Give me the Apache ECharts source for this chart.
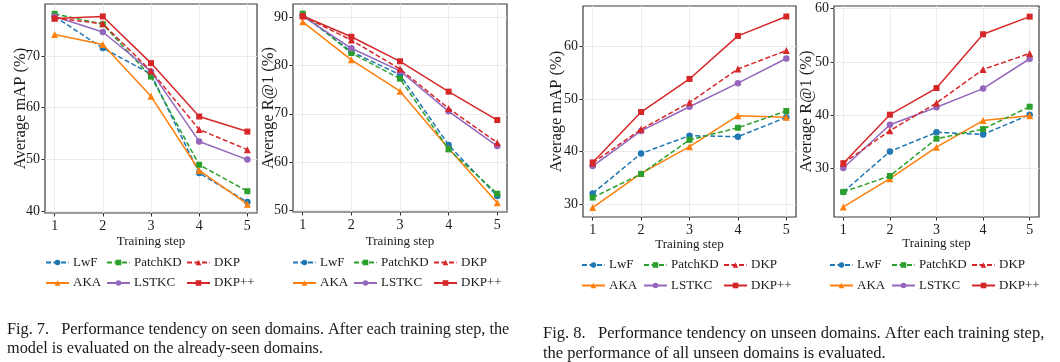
<!DOCTYPE html>
<html><head><meta charset="utf-8">
<script src="https://cdn.jsdelivr.net/npm/echarts@6/dist/echarts.min.js"></script>
<style>html,body{margin:0;padding:0;background:#fff}#c{width:1060px;height:362px}</style>
</head><body><div id="c"></div>
<script>
// ---- data ----
const steps = [1, 2, 3, 4, 5];
const methodNames = ['LwF', 'AKA', 'PatchKD', 'LSTKC', 'DKP', 'DKP++'];

// Fig. 7 (left): seen domains, Average mAP (%)
const seenMapLwF     = [77.6, 71.5, 66.5, 47.4, 41.8];
const seenMapAKA     = [74.1, 72.2, 62.2, 47.9, 41.4];
const seenMapPatchKD = [78.1, 76.1, 66.0, 49.0, 43.9];
const seenMapLSTKC   = [77.6, 74.6, 67.0, 53.5, 50.0];
const seenMapDKP     = [77.3, 76.2, 67.1, 55.8, 51.9];
const seenMapDKPpp   = [77.2, 77.6, 68.6, 58.3, 55.4];

// Fig. 7 (right): seen domains, Average R@1 (%)
const seenR1LwF     = [90.5, 82.9, 78.1, 63.5, 52.9];
const seenR1AKA     = [89.1, 81.2, 74.7, 62.8, 51.5];
const seenR1PatchKD = [90.8, 82.6, 77.3, 62.6, 53.4];
const seenR1LSTKC   = [90.3, 83.6, 78.9, 70.5, 63.3];
const seenR1DKP     = [90.3, 85.3, 79.3, 71.1, 64.0];
const seenR1DKPpp   = [90.3, 86.0, 80.9, 74.6, 68.7];

// Fig. 8 (left): unseen domains, Average mAP (%)
const unseenMapLwF     = [32.0, 39.6, 43.0, 42.8, 46.5];
const unseenMapAKA     = [29.3, 35.8, 40.9, 46.8, 46.5];
const unseenMapPatchKD = [31.2, 35.7, 42.2, 44.5, 47.7];
const unseenMapLSTKC   = [37.2, 43.9, 48.5, 53.0, 57.7];
const unseenMapDKP     = [37.8, 44.2, 49.3, 55.7, 59.2];
const unseenMapDKPpp   = [37.9, 47.5, 53.8, 62.0, 65.7];

// Fig. 8 (right): unseen domains, Average R@1 (%)
const unseenR1LwF     = [25.6, 33.2, 36.8, 36.4, 40.1];
const unseenR1AKA     = [22.8, 28.1, 34.0, 39.0, 39.9];
const unseenR1PatchKD = [25.6, 28.6, 35.6, 37.4, 41.6];
const unseenR1LSTKC   = [30.1, 38.2, 41.5, 45.0, 50.6];
const unseenR1DKP     = [31.0, 37.1, 42.3, 48.6, 51.6];
const unseenR1DKPpp   = [31.0, 40.1, 45.1, 55.2, 58.5];

// tick labels
const xTicks = [1, 2, 3, 4, 5];
const yTicksSeenMap = [40, 50, 60, 70];
const yTicksSeenR1 = [50, 60, 70, 80, 90];
const yTicksUnseenMap = [30, 40, 50, 60];
const yTicksUnseenR1 = [30, 40, 50, 60];

const xLabel = 'Training step';
const yLabelMap = 'Average mAP (%)';
const yLabelR1 = 'Average R@1 (%)';
const caption7a = 'Fig. 7.   Performance tendency on seen domains. After each training step, the';
const caption7b = 'model is evaluated on the already-seen domains.';
const caption8a = 'Fig. 8.   Performance tendency on unseen domains. After each training step,';
const caption8b = 'the performance of all unseen domains is evaluated.';

// ---- styles ----
const FONT = '"Liberation Serif", "DejaVu Serif", serif';
const styles = {
  'LwF':     {color: '#1f77b4', dash: true,  symbol: 'circle',   size: 6.5},
  'AKA':     {color: '#ff7f0e', dash: false, symbol: 'triangle', size: 7},
  'PatchKD': {color: '#2ca02c', dash: true,  symbol: 'rect',     size: 6},
  'LSTKC':   {color: '#9467bd', dash: false, symbol: 'circle',   size: 6.5},
  'DKP':     {color: '#d62728', dash: true,  symbol: 'triangle', size: 7},
  'DKP++':   {color: '#d62728', dash: false, symbol: 'rect',     size: 6}
};

const panels = [
  {grid: {left: 45, top: 4, width: 212, height: 209}, yMin: 39.7, yMax: 80.0, yTicks: yTicksSeenMap, yName: yLabelMap, yGap: 16,
   data: [seenMapLwF, seenMapAKA, seenMapPatchKD, seenMapLSTKC, seenMapDKP, seenMapDKPpp], xGap: 22.5},
  {grid: {left: 293, top: 4, width: 214, height: 208}, yMin: 49.6, yMax: 92.8, yTicks: yTicksSeenR1, yName: yLabelR1, yGap: 15.5,
   data: [seenR1LwF, seenR1AKA, seenR1PatchKD, seenR1LSTKC, seenR1DKP, seenR1DKPpp], xGap: 23.5},
  {grid: {left: 583, top: 6, width: 213, height: 211}, yMin: 27.5, yMax: 67.7, yTicks: yTicksUnseenMap, yName: yLabelMap, yGap: 18,
   data: [unseenMapLwF, unseenMapAKA, unseenMapPatchKD, unseenMapLSTKC, unseenMapDKP, unseenMapDKPpp], xGap: 21},
  {grid: {left: 834, top: 6, width: 205, height: 211}, yMin: 20.9, yMax: 60.5, yTicks: yTicksUnseenR1, yName: yLabelR1, yGap: 19,
   data: [unseenR1LwF, unseenR1AKA, unseenR1PatchKD, unseenR1LSTKC, unseenR1DKP, unseenR1DKPpp], xGap: 20.5}
];

// legend column positions per panel
const legendPos = [
  {lefts: [45, 106, 186], top: 256},
  {lefts: [292, 353, 433], top: 256},
  {lefts: [581, 643, 723], top: 258.5},
  {lefts: [829, 891, 971], top: 258.5}
];
const legendCols = [['LwF', 'AKA'], ['PatchKD', 'LSTKC'], ['DKP', 'DKP++']];

const grids = [], xAxes = [], yAxes = [], series = [], legends = [];
panels.forEach((p, i) => {
  grids.push(Object.assign({show: true, borderColor: '#3a3a3a', borderWidth: 1.2, backgroundColor: 'transparent'}, p.grid));
  xAxes.push({
    gridIndex: i, type: 'value', min: 0.8, max: 5.2,
    axisLine: {show: false},
    axisTick: {show: true, customValues: xTicks, length: 3.5, lineStyle: {color: '#333', width: 1}},
    axisLabel: {customValues: xTicks, margin: 6, fontSize: 14, fontFamily: FONT, color: '#1a1a1a'},
    splitLine: {show: true, lineStyle: {color: '#ebebeb', width: 1}},
    name: xLabel, nameLocation: 'middle', nameGap: p.xGap, nameMoveOverlap: false,
    nameTextStyle: {fontSize: 13, fontFamily: FONT, color: '#1a1a1a'}
  });
  yAxes.push({
    gridIndex: i, type: 'value', min: p.yMin, max: p.yMax,
    axisLine: {show: false},
    axisTick: {show: true, customValues: p.yTicks, length: 3.5, lineStyle: {color: '#333', width: 1}},
    axisLabel: {customValues: p.yTicks, margin: 5, fontSize: 14, fontFamily: FONT, color: '#1a1a1a'},
    splitLine: {show: true, lineStyle: {color: '#ebebeb', width: 1}},
    name: p.yName, nameLocation: 'middle', nameRotate: 90, nameGap: p.yGap, nameMoveOverlap: false,
    nameTextStyle: {fontSize: 16.5, fontFamily: FONT, color: '#1a1a1a'}
  });
  methodNames.forEach((m, k) => {
    const s = styles[m];
    series.push({
      type: 'line', name: m, xAxisIndex: i, yAxisIndex: i,
      data: steps.map((x, j) => [x, p.data[k][j]]),
      symbol: s.symbol, symbolSize: s.size, showSymbol: true,
      lineStyle: {color: s.color, width: 1.5, type: s.dash ? [5, 2.5] : 'solid'},
      itemStyle: {color: s.color},
      z: 2 + k, animation: false, silent: true
    });
  });
  legendCols.forEach((col, c) => {
    legends.push({
      orient: 'vertical', left: legendPos[i].lefts[c], top: legendPos[i].top,
      data: col, itemWidth: 23, itemHeight: 7, itemGap: 7.5, padding: 0,
      selectedMode: false,
      textStyle: {fontSize: 13, fontFamily: FONT, color: '#1a1a1a', padding: [0, 0, 0, -1]}
    });
  });
});

const cap7Style = {font: '16.3px ' + FONT, fill: '#1a1a1a'};
const cap8Style = {font: '16.5px ' + FONT, fill: '#1a1a1a'};
const option = {
  animation: false,
  backgroundColor: '#fff',
  grid: grids, xAxis: xAxes, yAxis: yAxes, series: series, legend: legends,
  graphic: [
    {type: 'text', left: 7, top: 321.5, style: Object.assign({text: caption7a}, cap7Style)},
    {type: 'text', left: 7, top: 341, style: Object.assign({text: caption7b}, cap7Style)},
    {type: 'text', left: 543, top: 325, style: Object.assign({text: caption8a}, cap8Style)},
    {type: 'text', left: 543, top: 345, style: Object.assign({text: caption8b}, cap8Style)}
  ]
};
const chart = echarts.init(document.getElementById('c'), null, {renderer: 'canvas'});
chart.setOption(option);
</script></body></html>
